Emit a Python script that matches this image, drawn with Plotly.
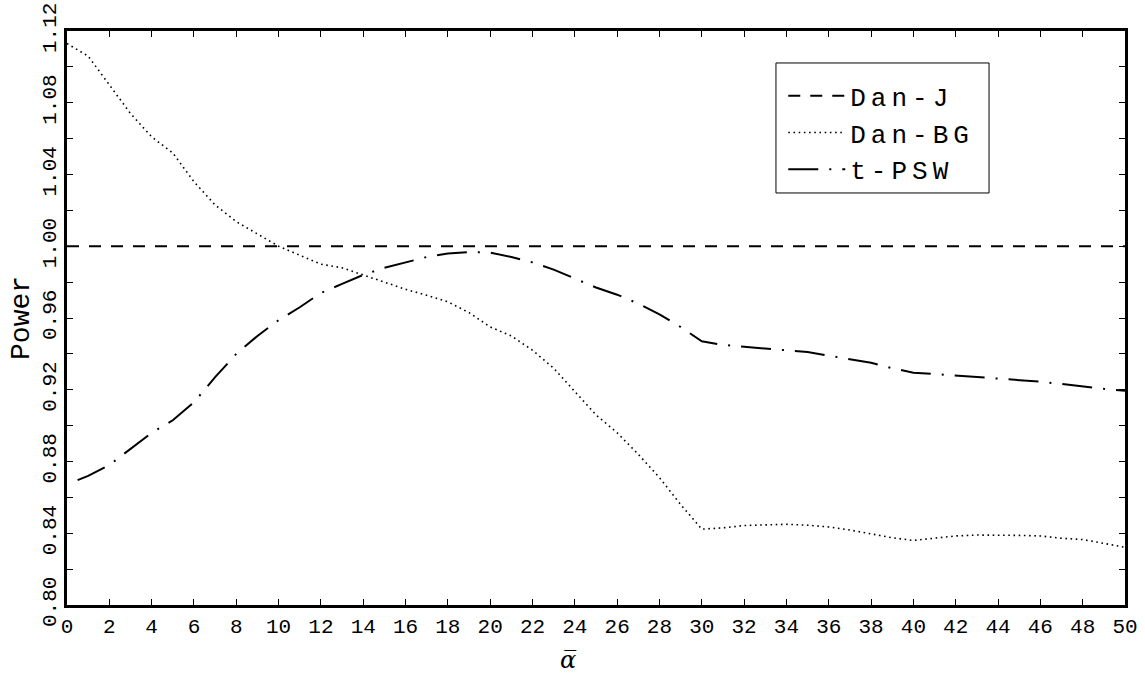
import plotly.graph_objects as go

# ---- data ----
alpha_grid = list(range(0, 51))

dan_j_power = [1.00] * 51

dan_bg_power = [
    1.113, 1.106, 1.090, 1.074, 1.061, 1.052, 1.036, 1.023, 1.0137, 1.007,
    1.000, 0.995, 0.990, 0.988, 0.984, 0.980, 0.976, 0.9727, 0.969, 0.963,
    0.955, 0.950, 0.942, 0.932, 0.919, 0.906, 0.896, 0.884, 0.871, 0.856,
    0.8423, 0.843, 0.8443, 0.8448, 0.845, 0.8445, 0.8435, 0.8418, 0.8398, 0.8375,
    0.836, 0.8372, 0.8385, 0.839, 0.839, 0.8388, 0.8385, 0.8372, 0.8365, 0.8345,
    0.8322,
]

tpsw_alpha = [0.5] + list(range(1, 51))
tpsw_power = [
    0.8696, 0.872, 0.878, 0.887, 0.896, 0.903, 0.913, 0.927, 0.940, 0.950,
    0.9588, 0.966, 0.974, 0.979, 0.984, 0.988, 0.991, 0.994, 0.996, 0.9967,
    0.9965, 0.994, 0.991, 0.987, 0.982, 0.977, 0.973, 0.968, 0.962, 0.955,
    0.947, 0.945, 0.944, 0.943, 0.942, 0.941, 0.939, 0.937, 0.935, 0.932,
    0.9295, 0.9288, 0.928, 0.9272, 0.9265, 0.9255, 0.9245, 0.9232, 0.9218, 0.9205,
    0.9195,
]

x_tick_vals = list(range(0, 51, 2))
x_tick_text = [str(v) for v in x_tick_vals]
y_tick_vals = [round(0.80 + 0.02 * i, 2) for i in range(17)]
y_tick_text = [f"{v:.2f}" if i % 2 == 0 else "" for i, v in enumerate(y_tick_vals)]

series_names = ["Dan-J", "Dan-BG", "t-PSW"]

MONO = "Liberation Mono, Courier New, monospace"


def spaced(s, px):
    return f"<span style='letter-spacing:{px}px'>{s}</span>"


fig = go.Figure()
fig.add_trace(go.Scatter(x=alpha_grid, y=dan_j_power, mode="lines",
                         name=spaced(series_names[0], 5),
                         line=dict(color="black", width=2, dash="12px,10px")))
fig.add_trace(go.Scatter(x=alpha_grid, y=dan_bg_power, mode="lines",
                         name=spaced(series_names[1], 5),
                         line=dict(color="black", width=1.6, dash="1.6px,3.6px")))
fig.add_trace(go.Scatter(x=tpsw_alpha, y=tpsw_power, mode="lines",
                         name=spaced(series_names[2], 5),
                         line=dict(color="black", width=2, dash="30px,11px,2px,11px")))

fig.update_layout(
    width=1145, height=678,
    margin=dict(l=67, r=20, t=31, b=73),
    paper_bgcolor="white", plot_bgcolor="white",
    font=dict(family=MONO, color="black", size=20),
    showlegend=True,
    legend=dict(
        x=0.677, y=0.928, xanchor="left", yanchor="top",
        bgcolor="rgba(0,0,0,0)", borderwidth=0,
        font=dict(family=MONO, size=26, color="black"),
        itemwidth=57,
    ),
    xaxis=dict(
        range=[0, 50], tickvals=x_tick_vals, ticktext=x_tick_text,
        ticks="inside", ticklen=6, tickwidth=1, tickcolor="black",
        showline=True, linewidth=3, linecolor="black", mirror="allticks",
        showgrid=False, zeroline=False, automargin=False,
        ticklabeloverflow="allow",
        tickfont=dict(family=MONO, size=21),
    ),
    yaxis=dict(
        range=[0.80, 1.12], tickvals=y_tick_vals, ticktext=y_tick_text,
        ticks="inside", ticklen=6, tickwidth=1, tickcolor="black",
        showline=True, linewidth=3, linecolor="black", mirror="allticks",
        showgrid=False, zeroline=False, tickangle=-90, automargin=False,
        ticklabeloverflow="allow",
        tickfont=dict(family=MONO, size=21),
    ),
    shapes=[
        dict(type="rect", xref="paper", yref="paper",
             x0=0.6701, x1=0.8715, y0=0.7178, y1=0.9443,
             line=dict(color="black", width=1), fillcolor="rgba(0,0,0,0)"),
    ],
    annotations=[
        dict(text="Power", xref="paper", yref="paper", x=-0.0435, y=0.5,
             xanchor="center", yanchor="middle", textangle=-90, showarrow=False,
             font=dict(family=MONO, size=28, color="black")),
        dict(text="<i>\u03b1\u0305</i>", xref="paper", yref="paper", x=0.4735, y=-0.0958,
             xanchor="center", yanchor="middle", showarrow=False,
             font=dict(family="DejaVu Serif", size=24, color="black")),
    ],
)

# remove the page's default 8px body margin so the figure fills the window exactly
fig.write_html("out.html", config={"displayModeBar": False},
               post_script="document.body.style.margin='0';")
